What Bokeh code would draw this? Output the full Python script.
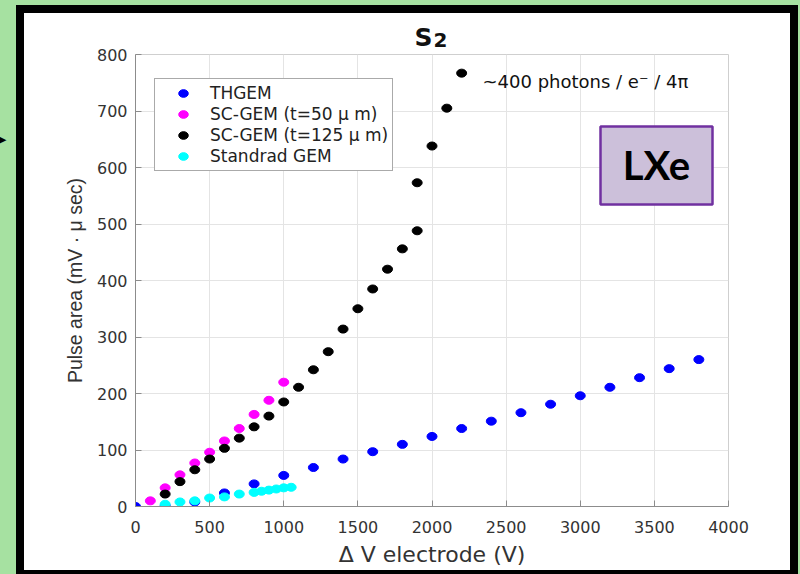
from bokeh.plotting import figure
from bokeh.models import (Range1d, SingleIntervalTicker, BoxAnnotation, Label,
                          Legend, LegendItem, InlineStyleSheet)
from bokeh.embed import file_html
from bokeh.resources import INLINE

# ---- data ----
thgem_v = [0, 200, 400, 600, 800, 1000, 1200, 1400, 1600, 1800, 2000, 2200,
           2400, 2600, 2800, 3000, 3200, 3400, 3600, 3800]
thgem_area = [0, 1, 8, 24, 40, 55, 69, 84, 97, 110, 124, 138,
              151, 166, 181, 196, 211, 228, 244, 260]

sc50_v = [100, 200, 300, 400, 500, 600, 700, 800, 900, 1000]
sc50_area = [10, 33, 56, 77, 96, 116, 138, 163, 188, 220]

sc125_v = [200, 300, 400, 500, 600, 700, 800, 900, 1000, 1100, 1200, 1300,
           1400, 1500, 1600, 1700, 1800, 1900, 1900, 2000, 2100, 2200]
sc125_area = [22, 44, 65, 84, 103, 121, 141, 160, 185, 211, 242, 274,
              314, 350, 385, 420, 456, 488, 573, 638, 705, 767]

std_v = [200, 300, 400, 500, 600, 700, 800, 850, 900, 950, 1000, 1050]
std_area = [4, 8, 10, 15, 17, 22, 25, 27, 29, 31, 33, 34]

series_labels = ["THGEM", "SC-GEM (t=50 \u03bc m)", "SC-GEM (t=125 \u03bc m)", "Standrad GEM"]
series_colors = ["#0000ff", "#ff00ff", "#000000", "#00ffff"]

x_label = "\u0394 V electrode (V)"
y_label = "Pulse area (mV \u00b7 \u03bc sec)"
note_text = "~400 photons / e\u207b / 4\u03c0"

GREEN = "#a6e1a1"

# page decoration: green surround, thick black frame, small arrow at the left edge
frame_css = InlineStyleSheet(css=f"""
:host {{ position: relative; overflow: hidden; }}
:host::after {{
  content: ""; position: absolute; left: 16px; top: 5px;
  width: 782px; height: 573px; box-sizing: border-box;
  border: 8px solid #000000; box-shadow: 0 0 0 40px {GREEN};
  pointer-events: none; z-index: 100;
}}
:host::before {{
  content: "\\25B6"; position: absolute; left: -2px; top: 131px;
  font-size: 11px; line-height: 16px; color: #000000;
  pointer-events: none; z-index: 101;
}}
""")

p = figure(width=800, height=574, output_backend="svg", toolbar_location=None,
           title=None, x_range=Range1d(0, 4000), y_range=Range1d(0, 800),
           min_border_left=135, min_border_right=72, min_border_top=54,
           min_border_bottom=68, border_fill_color="white",
           background_fill_color="white", outline_line_color="#cfcfcf",
           stylesheets=[frame_css])


def canvas_box(left, right, top, bottom, **kw):
    return BoxAnnotation(left=left, right=right, top=top, bottom=bottom,
                         left_units="canvas", right_units="canvas",
                         top_units="canvas", bottom_units="canvas", **kw)


# axes
for ax in (p.xaxis, p.yaxis):
    ax.major_tick_in = 6
    ax.major_tick_out = 0
    ax.minor_tick_line_color = None
    ax.axis_line_color = "#8c8c8c"
    ax.major_tick_line_color = "#8c8c8c"
    ax.major_label_text_font = "DejaVu Sans"
    ax.major_label_text_font_size = "16px"
    ax.major_label_text_color = "#333333"
    ax.axis_label_text_font_style = "normal"
    ax.axis_label_text_color = "#333333"

p.xaxis.ticker = SingleIntervalTicker(interval=500, num_minor_ticks=0)
p.yaxis.ticker = SingleIntervalTicker(interval=100, num_minor_ticks=0)
p.xaxis.major_label_standoff = 14
p.yaxis.major_label_standoff = 8
p.xaxis.axis_label = x_label
p.yaxis.axis_label = y_label
p.xaxis.axis_label_text_font = "DejaVu Sans"
p.xaxis.axis_label_text_font_size = "22px"
p.xaxis.axis_label_standoff = 6
p.yaxis.axis_label_text_font = "Liberation Sans"
p.yaxis.axis_label_text_font_size = "19.5px"
p.yaxis.axis_label_standoff = 8

p.grid.grid_line_color = "#e4e4e4"
p.grid.grid_line_width = 1

# data points
renderers = []
for xs, ys, c in [(thgem_v, thgem_area, series_colors[0]),
                  (sc50_v, sc50_area, series_colors[1]),
                  (sc125_v, sc125_area, series_colors[2]),
                  (std_v, std_area, series_colors[3])]:
    r = p.ellipse(x=xs, y=ys, width=10, height=8, width_units="screen",
                  height_units="screen", fill_color=c, line_color=c)
    renderers.append(r)

legend = Legend(items=[LegendItem(label=l, renderers=[r]) for l, r in zip(series_labels, renderers)],
                location=(19, 335), padding=4, spacing=1, margin=0,
                glyph_width=48, glyph_height=12, label_standoff=3, label_height=20,
                label_text_font="DejaVu Sans", label_text_font_size="17px",
                label_text_color="#222222", border_line_color="#555555",
                border_line_width=1, background_fill_color="white",
                background_fill_alpha=1.0)
p.add_layout(legend)

# title S2 (placed in a side panel so that it is not clipped to the frame)
p.add_layout(Label(x=414, y=37, x_units="canvas", y_units="canvas", text="S",
                   text_font="DejaVu Sans", text_font_style="bold",
                   text_font_size="25px", text_color="#111111",
                   text_baseline="alphabetic"), "right")
p.add_layout(Label(x=433, y=39, x_units="canvas", y_units="canvas", text="2",
                   text_font="DejaVu Sans", text_font_style="bold",
                   text_font_size="20px", text_color="#111111",
                   text_baseline="alphabetic"), "right")

# annotation
p.add_layout(Label(x=482, y=81, x_units="canvas", y_units="canvas", text=note_text,
                   text_font="DejaVu Sans", text_font_size="18px",
                   text_color="#111111", text_baseline="alphabetic"))

# LXe box
p.add_layout(canvas_box(600, 712, 126, 204, fill_color="#ccc0da", fill_alpha=1.0,
                        line_color="#7030a0", line_alpha=1.0, line_width=2.5))
p.add_layout(Label(x=656, y=164, x_units="canvas", y_units="canvas", text="LXe",
                   text_font="Lato", text_font_style="bold", text_font_size="40px",
                   text_color="black", text_align="center",
                   text_baseline="alphabetic"))

open("out.html", "w").write(file_html(p, INLINE))
